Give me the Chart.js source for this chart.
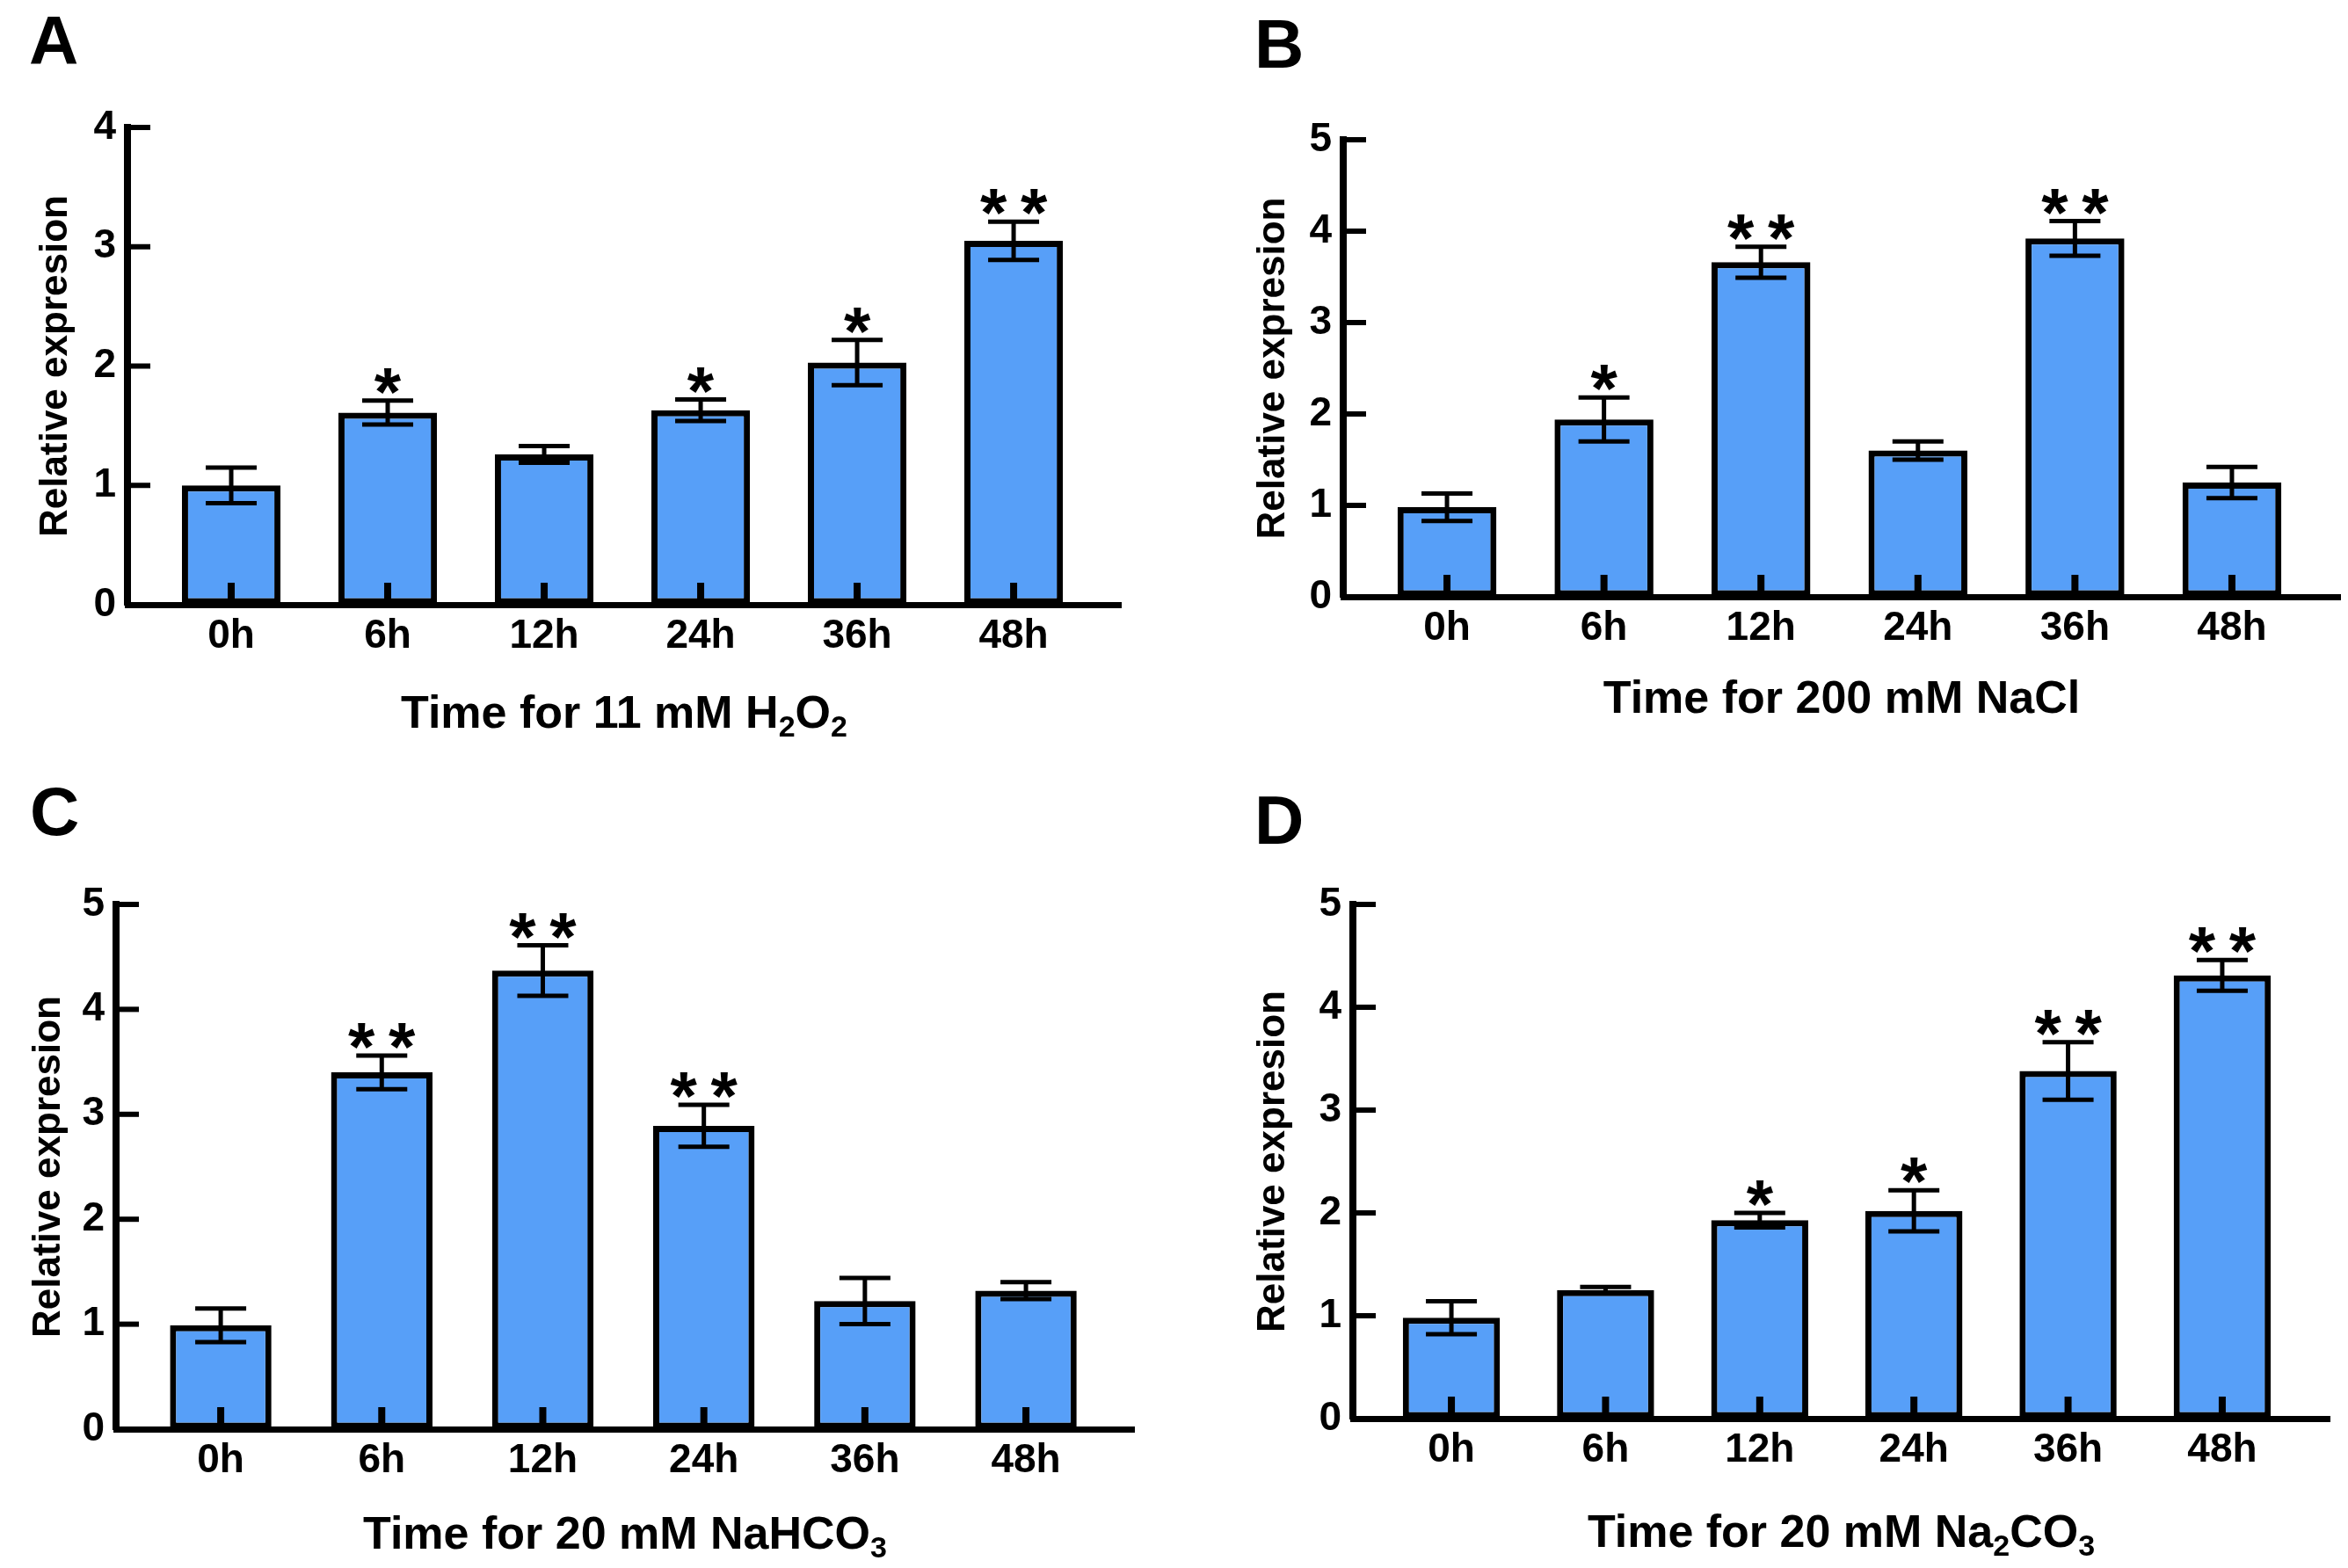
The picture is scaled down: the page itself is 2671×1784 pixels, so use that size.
<!DOCTYPE html>
<html>
<head>
<meta charset="utf-8">
<script src="https://cdn.jsdelivr.net/npm/chart.js@4.4.1/dist/chart.umd.min.js"></script>
<style>
  body { margin: 0; background: #fff; width: 2671px; height: 1784px; position: relative; overflow: hidden; }
  canvas { position: absolute; }
</style>
</head>
<body>
<canvas id="cA" width="1335" height="892" style="left:0;top:0"></canvas>
<canvas id="cB" width="1336" height="892" style="left:1335px;top:0"></canvas>
<canvas id="cC" width="1335" height="892" style="left:0;top:892px"></canvas>
<canvas id="cD" width="1336" height="892" style="left:1335px;top:892px"></canvas>
<script>
// time points shared by the four panels
const hours = ['0h', '6h', '12h', '24h', '36h', '48h'];

// A - 11 mM H2O2
const h2o2Mean  = [1.00, 1.61, 1.26, 1.63, 2.03, 3.05];
const h2o2Sd    = [0.15, 0.10, 0.07, 0.09, 0.19, 0.16];
const h2o2Stars = [0, 1, 0, 1, 1, 2];

// B - 200 mM NaCl
const naclMean  = [0.98, 1.94, 3.66, 1.60, 3.92, 1.25];
const naclSd    = [0.15, 0.24, 0.17, 0.10, 0.19, 0.17];
const naclStars = [0, 1, 2, 0, 2, 0];

// C - 20 mM NaHCO3
const nahco3Mean  = [0.99, 3.40, 4.37, 2.89, 1.22, 1.32];
const nahco3Sd    = [0.16, 0.16, 0.24, 0.20, 0.22, 0.08];
const nahco3Stars = [0, 2, 2, 2, 0, 0];

// D - 20 mM Na2CO3
const na2co3Mean  = [0.98, 1.25, 1.93, 2.02, 3.38, 4.31];
const na2co3Sd    = [0.16, 0.03, 0.07, 0.20, 0.28, 0.15];
const na2co3Stars = [0, 0, 1, 1, 2, 2];

const yTicksA = 4, yTicksOther = 5;

const FONT = '"Liberation Sans", Arial, sans-serif';
const BLUE = '#579ff8';
Chart.defaults.font.family = FONT;
Chart.defaults.color = '#000';

// --- annotations: error bars, stars, inward ticks, x title, panel letter ---
function decoPlugin(p) {
  return {
    id: 'deco' + p.letter,
    afterDatasetsDraw(chart) {
      const ctx = chart.ctx, ys = chart.scales.y;
      const meta = chart.getDatasetMeta(0);
      ctx.save();
      ctx.strokeStyle = '#000';
      ctx.fillStyle = '#000';
      ctx.lineWidth = 5;
      meta.data.forEach((bar, i) => {
        const x = bar.x;
        const hi = ys.getPixelForValue(p.mean[i] + p.sd[i]);
        const lo = ys.getPixelForValue(p.mean[i] - p.sd[i]);
        ctx.beginPath();
        ctx.moveTo(x, lo); ctx.lineTo(x, hi);
        ctx.moveTo(x - 29, hi); ctx.lineTo(x + 29, hi);
        ctx.moveTo(x - 29, lo); ctx.lineTo(x + 29, lo);
        ctx.stroke();
        const n = p.stars[i];
        if (n) {
          ctx.font = 'bold 78px ' + FONT;
          ctx.textAlign = 'center';
          ctx.textBaseline = 'alphabetic';
          const by = hi - 28 + 45;
          if (n === 1) ctx.fillText('*', x, by);
          else { ctx.fillText('*', x - 23, by); ctx.fillText('*', x + 23, by); }
        }
      });
      ctx.restore();
    },
    afterDraw(chart) {
      const ctx = chart.ctx, xs = chart.scales.x, ys = chart.scales.y;
      const a = chart.chartArea;
      ctx.save();
      ctx.strokeStyle = '#000';
      ctx.fillStyle = '#000';
      // x ticks pointing up into the bars
      ctx.lineWidth = 8;
      hours.forEach((h, i) => {
        const x = xs.getPixelForValue(i);
        ctx.beginPath(); ctx.moveTo(x, a.bottom); ctx.lineTo(x, a.bottom - 25); ctx.stroke();
      });
      // y ticks pointing right
      ctx.lineWidth = 6;
      for (let v = 1; v <= p.yMax; v++) {
        const y = ys.getPixelForValue(v);
        ctx.beginPath(); ctx.moveTo(a.left, y); ctx.lineTo(a.left + 26, y); ctx.stroke();
      }
      // x axis title with subscripts
      const big = 'bold 52px ' + FONT, small = 'bold 34px ' + FONT;
      let w = 0;
      p.title.forEach(([t, sub]) => { ctx.font = sub ? small : big; w += ctx.measureText(t).width; });
      let x = (a.left + a.right) / 2 - w / 2;
      const base = a.bottom + p.titleDy;
      ctx.textAlign = 'left';
      ctx.textBaseline = 'alphabetic';
      p.title.forEach(([t, sub]) => {
        ctx.font = sub ? small : big;
        ctx.fillText(t, x, sub ? base + 10 : base);
        x += ctx.measureText(t).width;
      });
      // panel letter
      ctx.font = 'bold 78px ' + FONT;
      ctx.fillText(p.letter, p.letterX, p.letterY);
      ctx.restore();
    }
  };
}

function panel(p) {
  const canvas = document.getElementById(p.id);
  const W = canvas.width, H = canvas.height;
  return new Chart(canvas, {
    type: 'bar',
    data: {
      datasets: [{
        data: p.mean.map((v, i) => ({ x: i, y: v })),
        backgroundColor: BLUE,
        borderColor: '#000',
        borderWidth: 7,
        borderSkipped: false,
        barPercentage: 0.63,
        categoryPercentage: 1,
      }],
    },
    options: {
      responsive: false, animation: false, devicePixelRatio: 1,
      layout: { padding: { left: 0, top: p.area.t, right: W - p.area.r, bottom: 0 } },
      plugins: { legend: { display: false }, tooltip: { enabled: false } },
      scales: {
        x: {
          type: 'linear', min: p.xMin, max: p.xMax, offset: false,
          grid: { drawOnChartArea: false, drawTicks: false, offset: false },
          border: { display: true, width: 7, color: '#000' },
          afterBuildTicks: s => { s.ticks = hours.map((h, i) => ({ value: i })); },
          afterFit: s => { s.height = H - p.area.b; },
          ticks: {
            autoSkip: false, maxRotation: 0, padding: 9,
            font: { size: 46, weight: 'bold' },
            callback: v => hours[v],
          },
        },
        y: {
          min: 0, max: p.yMax,
          grid: { drawOnChartArea: false, drawTicks: false },
          border: { display: true, width: 8, color: '#000' },
          afterFit: s => { s.width = p.area.l; },
          ticks: { stepSize: 1, padding: 13, font: { size: 46, weight: 'bold' } },
          title: {
            display: true, text: 'Relative expresion',
            font: { size: 44, weight: 'bold' },
            padding: { top: p.yTitleX - 26, bottom: 0 },
          },
        },
      },
    },
    plugins: [decoPlugin(p)],
  });
}

panel({ id: 'cA', letter: 'A', letterX: 33, letterY: 73,
  mean: h2o2Mean, sd: h2o2Sd, stars: h2o2Stars, yMax: yTicksA,
  area: { l: 145, r: 1275, t: 145, b: 688 }, xMin: -0.663, xMax: 5.685,
  yTitleX: 63, titleDy: 140,
  title: [['Time for 11 mM H', 0], ['2', 1], ['O', 0], ['2', 1]] });

panel({ id: 'cB', letter: 'B', letterX: 92, letterY: 77,
  mean: naclMean, sd: naclSd, stars: naclStars, yMax: yTicksOther,
  area: { l: 193, r: 1327, t: 159, b: 679 }, xMin: -0.661, xMax: 5.689,
  yTitleX: 113, titleDy: 132,
  title: [['Time for 200 mM NaCl', 0]] });

panel({ id: 'cC', letter: 'C', letterX: 34, letterY: 58,
  mean: nahco3Mean, sd: nahco3Sd, stars: nahco3Stars, yMax: yTicksOther,
  area: { l: 132, r: 1290, t: 137, b: 734 }, xMin: -0.65, xMax: 5.671,
  yTitleX: 55, titleDy: 136,
  title: [['Time for 20 mM NaHCO', 0], ['3', 1]] });

panel({ id: 'cD', letter: 'D', letterX: 92, letterY: 68,
  mean: na2co3Mean, sd: na2co3Sd, stars: na2co3Stars, yMax: yTicksOther,
  area: { l: 204, r: 1315, t: 137, b: 722 }, xMin: -0.639, xMax: 5.696,
  yTitleX: 113, titleDy: 146,
  title: [['Time for 20 mM Na', 0], ['2', 1], ['CO', 0], ['3', 1]] });
</script>
</body>
</html>
